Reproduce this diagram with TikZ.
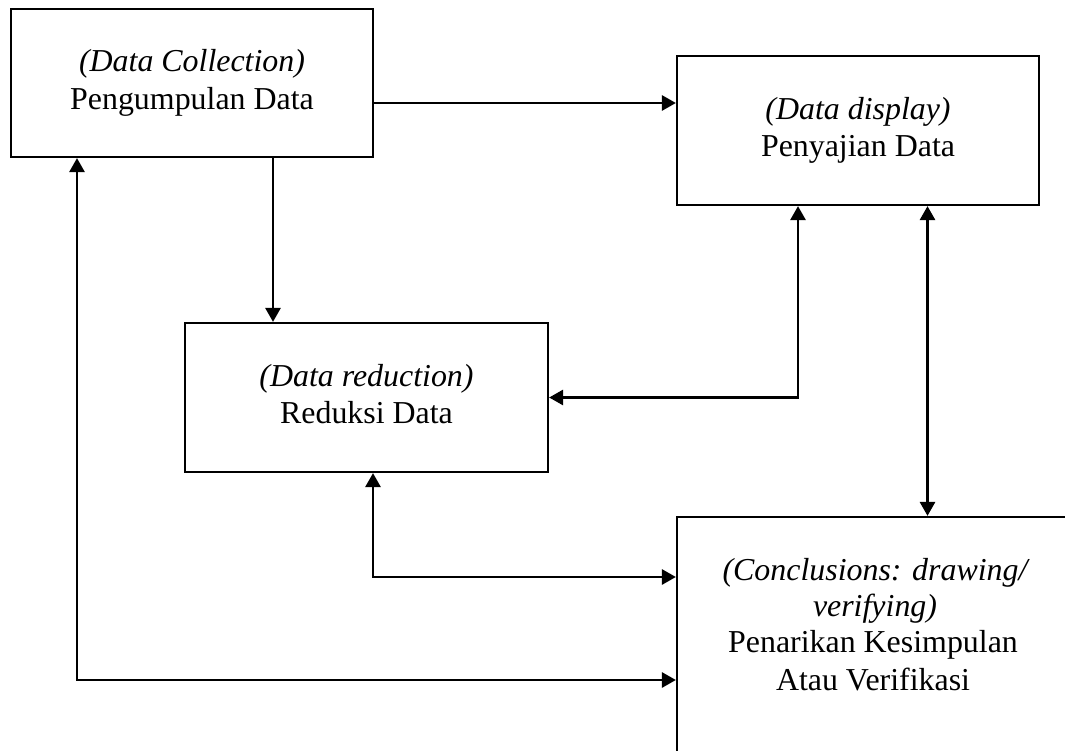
\documentclass[tikz,border=0pt]{standalone}
\usepackage{fontspec}
\setmainfont{Liberation Serif}
\usetikzlibrary{arrows.meta,calc}
\begin{document}
\begin{tikzpicture}[x=1pt,y=-1pt,
  boxnode/.style={draw,line width=2.2pt,inner sep=0pt,minimum width=#1},
  txt/.style={inner sep=0pt,anchor=base,font=\fontsize{31.9}{38}\selectfont},
  conn/.style={line width=2.8pt},
  arr/.style={conn,-{Triangle[length=14pt,width=15pt]}},
  dbl/.style={conn,{Triangle[length=14pt,width=15pt]}-{Triangle[length=14pt,width=15pt]}}]
\useasboundingbox (0,0) rectangle (1065,751);
\clip (0,0) rectangle (1065,751);
% boxes
\node[boxnode=362pt,minimum height=148pt] (b1) at (192,83) {};
\node[boxnode=362pt,minimum height=149pt] (b2) at (858,130.5) {};
\node[boxnode=363pt,minimum height=149pt] (b3) at (366.5,397.5) {};
\node[boxnode=396pt,minimum height=236pt] (b4) at (875,635) {};
% texts
\node[txt] (t1a) at (192,72) {\itshape (Data Collection)};
\node[txt] (t1b) at (192,110) {Pengumpulan Data};
\node[txt] (t2a) at (858,120) {\itshape (Data display)};
\node[txt] (t2b) at (858,157) {Penyajian Data};
\node[txt] (t3a) at (366.5,386) {\itshape (Data reduction)};
\node[txt] (t3b) at (366.5,423) {Reduksi Data};
\node[txt] (t4a) at (875,580) {\itshape (Conclusions: drawing/};
\node[txt] (t4b) at (875,616) {\itshape verifying)};
\node[txt] (t4c) at (873,652) {Penarikan Kesimpulan};
\node[txt] (t4d) at (873,690) {Atau Verifikasi};
% routing coordinates
\coordinate (y1) at (0,103);
\coordinate (k1) at (273,0);
\coordinate (k2) at (798,0);
\coordinate (k3) at (927.5,0);
\coordinate (k4) at (373,0);
\coordinate (y5) at (0,577);
\coordinate (k6) at (77,0);
\coordinate (y7) at (0,680);
% connectors
\draw[arr] (b1.east |- y1) -- (b2.west |- y1);
\draw[arr] (b1.south -| k1) -- (b3.north -| k1);
\draw[dbl] (b2.south -| k2) |- (b3.east);
\draw[dbl] (b2.south -| k3) -- (b4.north -| k3);
\draw[dbl] (b3.south -| k4) |- (b4.west |- y5);
\draw[dbl] (b1.south -| k6) |- (b4.west |- y7);
\end{tikzpicture}
\end{document}
